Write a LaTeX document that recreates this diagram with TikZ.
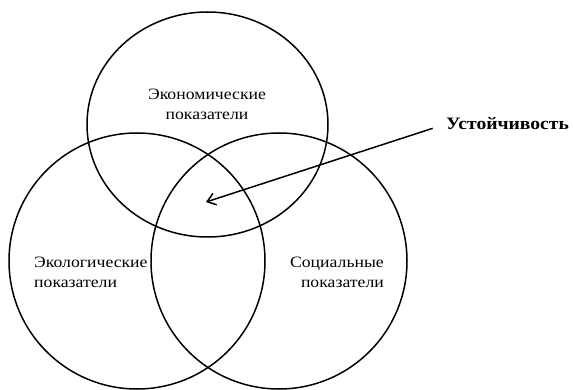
\documentclass[tikz,border=0pt]{standalone}
\usepackage{fontspec}
\setmainfont{Liberation Serif}[FakeStretch=1.12]
\usepackage{tikz}
\usetikzlibrary{arrows.meta,positioning}

\begin{document}
\begin{tikzpicture}[x=1pt,y=-1pt,
    krug/.style={line width=1.5pt},
    podpis/.style={font=\fontsize{15.8}{20}\selectfont,inner sep=0pt},
    strelka/.style={line width=1.5pt,-{Straight Barb[length=8pt,width=12pt,line width=1.5pt]}}]
    \useasboundingbox (0,0) rectangle (573,390);
    \draw[krug] (207.5,124.5) ellipse [x radius=120.5,y radius=112.5];
    \draw[krug] (137,261) circle (128);
    \draw[krug] (279,261) circle (128);
    \node[podpis,align=center] (econ) at (207,104) {Экономические\\показатели};
    \node[podpis,align=left,anchor=west] (ecol) at (34,272) {Экологические\\показатели};
    \node[podpis,align=right,anchor=east] (soc) at (384,272) {Социальные\\показатели};
    \node[podpis,font=\fontsize{17.5}{20}\bfseries,anchor=west] (stab) at (446,124) {Устойчивость};
    \coordinate (core) at (206,202);
    \draw[strelka,shorten <=14pt] (stab.west) -- (core);
\end{tikzpicture}
\end{document}
